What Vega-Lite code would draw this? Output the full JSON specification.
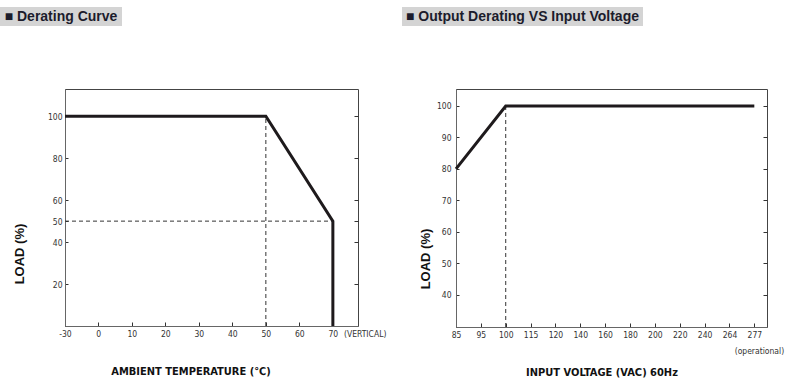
{
  "$schema": "https://vega.github.io/schema/vega-lite/v6.json",
  "background": "white",
  "padding": {"left": 0, "top": 7, "right": 0, "bottom": 0},
  "spacing": 62,
  "config": {
    "font": "DejaVu Sans Condensed",
    "view": {"stroke": "#444", "strokeWidth": 1},
    "axis": {
      "labelFont": "DejaVu Sans Condensed",
      "labelFontSize": 8.5,
      "labelColor": "#333",
      "domainColor": "#666",
      "tickColor": "#333",
      "grid": false,
      "titleColor": "#111",
      "titleFontWeight": "bold",
      "labelOverlap": false,
      "labelFlush": false
    }
  },
  "vconcat": [
    {
      "hconcat": [
        {
          "width": 122,
          "height": 19,
          "view": {"fill": "#d4d4d4", "stroke": null},
          "data": {"values": [{"label": "■ Derating Curve"}]},
          "mark": {"type": "text", "font": "Liberation Sans", "fontSize": 14, "fontWeight": "bold", "color": "#1c1c2c", "baseline": "middle"},
          "encoding": {"text": {"field": "label"}}
        },
        {
          "width": 241,
          "height": 19,
          "view": {"fill": "#d4d4d4", "stroke": null},
          "data": {"values": [{"label": "■ Output Derating VS Input Voltage"}]},
          "mark": {"type": "text", "font": "Liberation Sans", "fontSize": 14, "fontWeight": "bold", "color": "#1c1c2c", "baseline": "middle"},
          "encoding": {"text": {"field": "label"}}
        }
      ],
      "spacing": 280
    },
    {
      "hconcat": [
        {
          "width": 1,
          "height": 1,
          "view": {"stroke": null},
          "data": {"values": []},
          "mark": "point"
        },
        {
          "hconcat": [
            {
              "width": 293,
              "height": 237,
              "layer": [
                {
                  "data": {"values": [
                    {"x1": 50, "x2": 50, "y1": 0, "y2": 100},
                    {"x1": -30, "x2": 70, "y1": 50, "y2": 50}
                  ]},
                  "mark": {"type": "rule", "strokeDash": [4, 3], "color": "#333", "strokeWidth": 1},
                  "encoding": {
                    "x": {
                      "field": "x1", "type": "quantitative",
                      "scale": {"domain": [-30, 0, 77.5], "range": [0, 33.3, 293], "nice": false, "zero": false},
                      "axis": {
                        "orient": "bottom",
                        "values": [-30, 0, 10, 20, 30, 40, 50, 60, 70],
                        "labelExpr": "toString(datum.value)",
                        "title": "AMBIENT TEMPERATURE (℃)",
                        "titleFont": "DejaVu Sans Condensed",
                        "titleFontSize": 11,
                        "titleX": 125.5,
                        "titlePadding": 28,
                        "tickSize": -4,
                        "labelPadding": 7
                      }
                    },
                    "x2": {"field": "x2"},
                    "y": {
                      "field": "y1", "type": "quantitative",
                      "scale": {"domain": [0, 113], "nice": false, "zero": false},
                      "axis": {
                        "orient": "left",
                        "values": [20, 40, 50, 60, 80, 100],
                        "title": "LOAD (%)",
                        "titleFont": "Liberation Sans",
                        "titleFontSize": 13,
                        "titleY": 164.5,
                        "titlePadding": 21,
                        "tickSize": -3,
                        "labelPadding": 6
                      }
                    },
                    "y2": {"field": "y2"}
                  }
                },
                {
                  "data": {"values": [
                    {"i": 1, "temp": -30, "load": 100},
                    {"i": 2, "temp": 50, "load": 100},
                    {"i": 3, "temp": 70, "load": 50},
                    {"i": 4, "temp": 70, "load": 0}
                  ]},
                  "mark": {"type": "line", "color": "#1e1a1c", "strokeWidth": 3, "strokeJoin": "miter"},
                  "encoding": {
                    "x": {"field": "temp", "type": "quantitative", "axis": null},
                    "y": {
                      "field": "load", "type": "quantitative",
                      "axis": {"orient": "right", "values": [20, 40, 50, 60, 80, 100], "labels": false, "title": null, "domain": false, "tickSize": -4}
                    },
                    "order": {"field": "i"}
                  }
                },
                {
                  "data": {"values": [{"temp": 73.3, "load": -1.9, "note": "(VERTICAL)"}]},
                  "mark": {"type": "text", "align": "left", "baseline": "top", "fontSize": 8.5, "color": "#333"},
                  "encoding": {
                    "x": {"field": "temp", "type": "quantitative", "axis": null},
                    "y": {"field": "load", "type": "quantitative", "axis": null},
                    "text": {"field": "note"}
                  }
                }
              ],
              "resolve": {"axis": {"x": "independent", "y": "independent"}}
            },
            {
              "width": 311,
              "height": 238,
              "layer": [
                {
                  "data": {"values": [
                    {"v1": 100, "l1": 29.7, "l2": 100}
                  ]},
                  "mark": {"type": "rule", "strokeDash": [4, 3], "color": "#333", "strokeWidth": 1},
                  "encoding": {
                    "x": {
                      "field": "v1", "type": "quantitative",
                      "scale": {
                        "domain": [85, 95, 100, 115, 120, 140, 160, 180, 200, 220, 240, 264, 277, 283.5],
                        "range": [0, 24.86, 49.72, 74.58, 99.44, 124.3, 149.16, 174.02, 198.88, 223.74, 248.6, 273.46, 298.32, 311],
                        "nice": false, "zero": false
                      },
                      "axis": {
                        "orient": "bottom",
                        "values": [85, 95, 100, 115, 120, 140, 160, 180, 200, 220, 240, 264, 277],
                        "title": "INPUT VOLTAGE (VAC) 60Hz",
                        "titleFont": "DejaVu Sans Condensed",
                        "titleFontSize": 11,
                        "titleX": 145.5,
                        "titlePadding": 28,
                        "tickSize": -4,
                        "labelPadding": 7
                      }
                    },
                    "y": {
                      "field": "l1", "type": "quantitative",
                      "scale": {"domain": [29.7, 105.4], "nice": false, "zero": false},
                      "axis": {
                        "orient": "left",
                        "values": [40, 50, 60, 70, 80, 90, 100],
                        "title": "LOAD (%)",
                        "titleFont": "Liberation Sans",
                        "titleFontSize": 13,
                        "titleY": 169.5,
                        "titlePadding": 4,
                        "tickSize": -3,
                        "labelPadding": 8
                      }
                    },
                    "y2": {"field": "l2"}
                  }
                },
                {
                  "data": {"values": [
                    {"vac": 85, "load": 80},
                    {"vac": 100, "load": 100},
                    {"vac": 277, "load": 100}
                  ]},
                  "mark": {"type": "line", "color": "#1e1a1c", "strokeWidth": 3, "strokeJoin": "miter"},
                  "encoding": {
                    "x": {"field": "vac", "type": "quantitative", "axis": null},
                    "y": {
                      "field": "load", "type": "quantitative",
                      "axis": {"orient": "right", "values": [40, 50, 60, 70, 80, 90, 100], "labels": false, "title": null, "domain": false, "tickSize": -4}
                    }
                  }
                },
                {
                  "data": {"values": [{"vac": 279.6, "load": 22, "note": "(operational)"}]},
                  "mark": {"type": "text", "align": "center", "baseline": "middle", "fontSize": 8.5, "color": "#333"},
                  "encoding": {
                    "x": {"field": "vac", "type": "quantitative", "axis": null},
                    "y": {"field": "load", "type": "quantitative", "axis": null},
                    "text": {"field": "note"}
                  }
                }
              ],
              "resolve": {"axis": {"x": "independent", "y": "independent"}}
            }
          ],
          "spacing": 31
        }
      ],
      "spacing": 11
    }
  ]
}
